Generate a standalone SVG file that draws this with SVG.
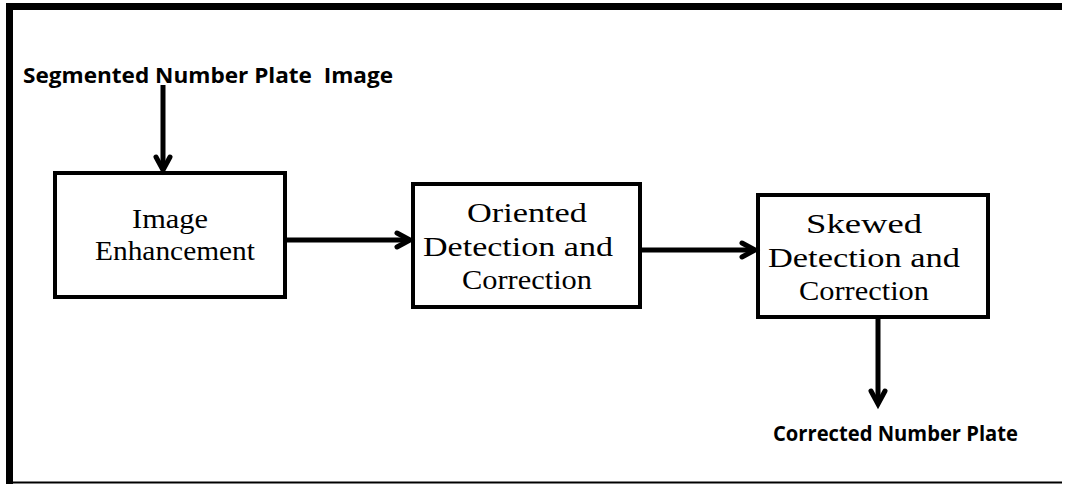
<svg xmlns="http://www.w3.org/2000/svg" width="1074" height="484" viewBox="0 0 1074 484">
<defs>
<style>
.box{fill:#fff;stroke:#000;stroke-width:4}
.lbl{font-family:"Liberation Serif","Times New Roman",serif;font-size:27px;fill:#000;text-anchor:middle}
.io{font-family:"Open Sans","Noto Sans",sans-serif;font-weight:bold;font-size:22px;fill:#000;white-space:pre}
.ln{stroke:#000;stroke-width:5;fill:none}
.hd{stroke:#000;stroke-width:5;fill:none;stroke-linecap:round;stroke-linejoin:miter}
</style>
</defs>
<rect width="1074" height="484" fill="#fff"/>
<g id="frame">
<rect x="6" y="3" width="1056" height="7" fill="#000"/>
<rect x="6" y="3" width="7" height="481" fill="#000"/>
<line x1="6" y1="482.5" x2="1062" y2="482.5" stroke="#000" stroke-width="2"/>
</g>
<g id="input-label"><text class="io" xml:space="preserve" x="23" y="83" textLength="370" lengthAdjust="spacingAndGlyphs">Segmented Number Plate  Image</text></g>
<g id="n1">
<rect class="box" x="55" y="173" width="230" height="124"/>
<text class="lbl" x="170" y="228" textLength="76" lengthAdjust="spacingAndGlyphs">Image</text>
<text class="lbl" x="175" y="260" textLength="160" lengthAdjust="spacingAndGlyphs">Enhancement</text>
</g>
<g id="n2">
<rect class="box" x="413" y="184" width="227" height="123"/>
<text class="lbl" x="527" y="222" textLength="120" lengthAdjust="spacingAndGlyphs">Oriented</text>
<text class="lbl" x="518" y="256" textLength="190" lengthAdjust="spacingAndGlyphs">Detection and</text>
<text class="lbl" x="527" y="289" textLength="130" lengthAdjust="spacingAndGlyphs">Correction</text>
</g>
<g id="n3">
<rect class="box" x="758" y="195" width="230" height="122"/>
<text class="lbl" x="864" y="233" textLength="116" lengthAdjust="spacingAndGlyphs">Skewed</text>
<text class="lbl" x="864" y="267" textLength="192" lengthAdjust="spacingAndGlyphs">Detection and</text>
<text class="lbl" x="864" y="300" textLength="130" lengthAdjust="spacingAndGlyphs">Correction</text>
</g>
<g id="output-label"><text class="io" x="773" y="441" textLength="245" lengthAdjust="spacingAndGlyphs">Corrected Number Plate</text></g>
<g id="connectors">
<line class="ln" x1="163" y1="85" x2="163" y2="170"/>
<polyline class="hd" points="156,157 163,170 170,157"/>
<line class="ln" x1="287" y1="240" x2="410" y2="240"/>
<polyline class="hd" points="397,233 410,240 397,247"/>
<line class="ln" x1="642" y1="250" x2="755" y2="250"/>
<polyline class="hd" points="742,243 755,250 742,257"/>
<line class="ln" x1="878" y1="319" x2="878" y2="404"/>
<polyline class="hd" points="871,391 878,404 885,391"/>
</g>
</svg>
